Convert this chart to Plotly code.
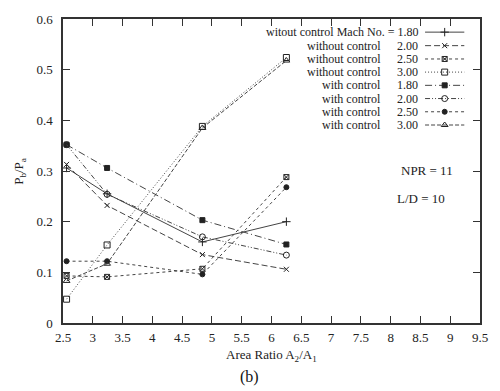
import plotly.graph_objects as go

area_ratio = [2.56, 3.24, 4.84, 6.25]

series_names = [
    ("witout control Mach No. = 1.80", None),
    ("without control", "2.00"),
    ("without control", "2.50"),
    ("without control", "3.00"),
    ("with control", "1.80"),
    ("with control", "2.00"),
    ("with control", "2.50"),
    ("with control", "3.00"),
]

wo_180 = [0.306, 0.255, 0.160, 0.200]
wo_200 = [0.313, 0.232, 0.135, 0.106]
wo_250 = [0.093, 0.091, 0.107, 0.288]
wo_300 = [0.047, 0.154, 0.388, 0.524]
w_180 = [0.352, 0.306, 0.203, 0.155]
w_200 = [0.352, 0.254, 0.170, 0.134]
w_250 = [0.122, 0.122, 0.096, 0.268]
w_300 = [0.083, 0.117, 0.385, 0.518]

values = [wo_180, wo_200, wo_250, wo_300, w_180, w_200, w_250, w_300]

x_ticks = [2.5, 3, 3.5, 4, 4.5, 5, 5.5, 6, 6.5, 7, 7.5, 8, 8.5, 9, 9.5]
y_ticks = [0, 0.1, 0.2, 0.3, 0.4, 0.5, 0.6]

styles = [
    dict(dash="solid", symbol="cross-thin", size=6),
    dict(dash="6px,3px", symbol="x-thin", size=5),
    dict(dash="3px,3px", symbol="square-x-open", size=5),
    dict(dash="1px,2px", symbol="square-open", size=6),
    dict(dash="7px,3px,1px,3px", symbol="square", size=5),
    dict(dash="5px,2px,1px,2px,1px,2px", symbol="circle-open", size=6),
    dict(dash="3px,3px", symbol="circle", size=5),
    dict(dash="4px,2px", symbol="triangle-up-open", size=6),
]

LINE = "#444"
FONT = "Liberation Serif"

fig = go.Figure()
for (name, num), ys, st in zip(series_names, values, styles):
    fig.add_trace(go.Scatter(
        x=area_ratio, y=ys, mode="lines+markers",
        line=dict(color=LINE, width=1, dash=st["dash"]),
        marker=dict(symbol=st["symbol"], size=st["size"], color="#222",
                    line=dict(color="#222", width=1)),
        showlegend=False, name=name + (" " + num if num else ""),
    ))

# custom gnuplot-style legend (text right, sample on the right)
leg_rows_px = [28.3, 42.0, 55.5, 68.8, 82.2, 95.6, 109.0, 122.4]
plot_l, plot_r, plot_t, plot_b = 63, 488, 15, 323
pw, ph = plot_r - plot_l, plot_b - plot_t

def px_to_paper_x(px):
    return (px - plot_l) / pw

def px_to_paper_y(py):
    return (plot_b - py) / ph

TXT = dict(family=FONT, size=13, color="#222")
LEG = dict(family=FONT, size=12, color="#222")

annotations = []
for i, ((name, num), st) in enumerate(zip(series_names, styles)):
    yp = px_to_paper_y(leg_rows_px[i])
    if num is None:
        annotations.append(dict(x=px_to_paper_x(426), y=yp, xref="paper", yref="paper",
                                text=name, showarrow=False, xanchor="right", yanchor="middle",
                                font=LEG, borderpad=0))
    else:
        annotations.append(dict(x=px_to_paper_x(388), y=yp, xref="paper", yref="paper",
                                text=name, showarrow=False, xanchor="right", yanchor="middle",
                                font=LEG, borderpad=0))
        annotations.append(dict(x=px_to_paper_x(426), y=yp, xref="paper", yref="paper",
                                text=num, showarrow=False, xanchor="right", yanchor="middle",
                                font=LEG, borderpad=0))
    x0, x1 = px_to_paper_x(432), px_to_paper_x(472)
    fig.add_trace(go.Scatter(
        x=[x0, (x0 + x1) / 2, x1], y=[yp, yp, yp], mode="lines",
        line=dict(color=LINE, width=1, dash=st["dash"]),
        xaxis="x2", yaxis="y2", showlegend=False, hoverinfo="skip"))
    fig.add_trace(go.Scatter(
        x=[(x0 + x1) / 2], y=[yp], mode="markers",
        marker=dict(symbol=st["symbol"], size=st["size"], color="#222",
                    line=dict(color="#222", width=1)),
        xaxis="x2", yaxis="y2", showlegend=False, hoverinfo="skip"))

annotations += [
    dict(x=px_to_paper_x(434), y=px_to_paper_y(168), xref="paper", yref="paper",
         text="NPR = 11", showarrow=False, xanchor="center", yanchor="middle", font=TXT),
    dict(x=px_to_paper_x(428), y=px_to_paper_y(197), xref="paper", yref="paper",
         text="L/D = 10", showarrow=False, xanchor="center", yanchor="middle", font=TXT),
    dict(x=0.5, y=px_to_paper_y(356), xref="paper", yref="paper",
         text="Area Ratio A<sub>2</sub>/A<sub>1</sub>", showarrow=False,
         xanchor="center", yanchor="middle", font=TXT),
    dict(x=px_to_paper_x(253), y=px_to_paper_y(378), xref="paper", yref="paper",
         text="(b)", showarrow=False, xanchor="center", yanchor="middle",
         font=dict(family=FONT, size=16, color="#111")),
    dict(x=px_to_paper_x(18), y=0.5, xref="paper", yref="paper",
         text="P<sub>b</sub>/P<sub>a</sub>", showarrow=False, textangle=-90,
         xanchor="center", yanchor="middle", font=TXT),
]

axis_common = dict(showline=True, linecolor="#333", linewidth=1.5, mirror="ticks",
                   ticks="inside", ticklen=7, tickwidth=1.2, tickcolor="#333",
                   showgrid=False, zeroline=False,
                   tickfont=dict(family=FONT, size=13, color="#222"))

fig.update_layout(
    width=500, height=391,
    margin=dict(l=plot_l, r=500 - plot_r, t=plot_t, b=391 - plot_b),
    paper_bgcolor="white", plot_bgcolor="white",
    xaxis=dict(range=[2.5, 9.5], tickvals=x_ticks, ticktext=[f"{v:g}" for v in x_ticks],
               ticklabelstandoff=2, **axis_common),
    yaxis=dict(range=[0, 0.6], tickvals=y_ticks, ticktext=[f"{v:g}" for v in y_ticks],
               ticklabelstandoff=6, **axis_common),
    xaxis2=dict(range=[0, 1], overlaying="x", visible=False, fixedrange=True),
    yaxis2=dict(range=[0, 1], overlaying="y", visible=False, fixedrange=True),
    annotations=annotations,
    showlegend=False,
)

fig.write_html("out.html", config={"displayModeBar": False},
               post_script="document.body.style.margin='0';document.body.style.padding='0';")
